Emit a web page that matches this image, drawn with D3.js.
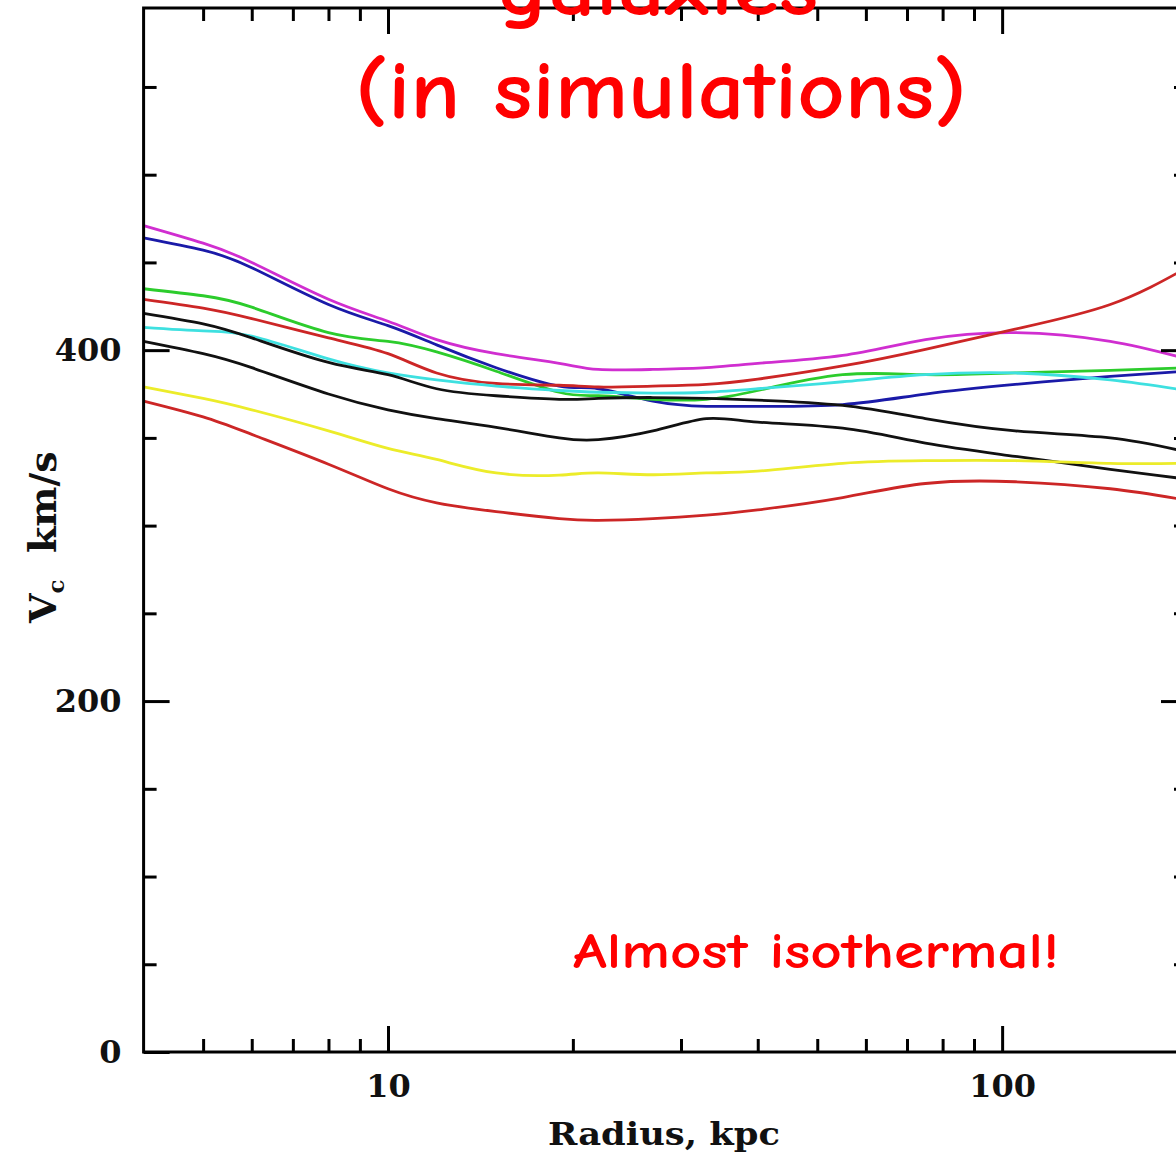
<!DOCTYPE html>
<html>
<head>
<meta charset="utf-8">
<script src="https://cdn.jsdelivr.net/npm/d3@7"></script>
<style>
  html, body { margin: 0; padding: 0; background: #fff; }
  svg { display: block; }
</style>
</head>
<body>
<svg id="chart" width="1176" height="1154"></svg>
<script>
// Circular velocity profiles of simulated galaxies (km/s vs radius in kpc)
const radii = [4, 5, 6, 8, 10, 12, 15, 19, 22, 27, 33, 40, 55, 75, 105, 150, 200];

const magentaV = [471, 461, 450, 429, 416.5, 406, 398, 392.5, 389, 389, 390, 392.5, 397, 406, 410, 405, 395];
const blueV    = [464, 457, 447, 426, 414, 403, 390, 379.5, 378, 371, 368, 368, 369, 375, 380.5, 385, 388];
const greenV   = [435, 431, 424.5, 410, 405, 399, 388, 376, 374, 372, 372, 377, 386, 386, 387, 388.5, 390];
const redV     = [429, 424, 418, 407, 398, 387, 381, 380, 379, 379.5, 380.5, 383.5, 391, 400.5, 412, 426, 447];
const cyanV    = [413, 411, 408, 395, 387, 383, 379.5, 377, 376, 375.5, 376, 378, 382, 386, 387, 383, 377];
const blackV   = [421, 415, 407, 393, 386, 378, 374, 372, 372.5, 373, 372.5, 371.5, 368.5, 361, 354, 350, 342];
const black2V  = [405, 398, 390, 375, 366, 361, 356, 350, 349, 354, 361, 359, 355.5, 347, 339.5, 332, 326.5];
const yellowV  = [379, 372.5, 366, 354, 344, 337.7, 330, 328.8, 330, 329, 330, 331, 335.5, 337, 337, 335.5, 335.5];
const red2V    = [371, 362, 352, 335, 321, 313, 308, 304, 303, 304, 306, 309, 316, 324, 325, 321, 314.5];

const seriesNames  = ["magenta", "blue", "green", "red", "cyan", "black", "black2", "yellow", "red2"];
const seriesColors = ["#d02ed0", "#1a1aa8", "#2ccc2c", "#cc2626", "#3ee0e0", "#111111", "#111111", "#ecec2a", "#cc2626"];
const seriesValues = [magentaV, blueV, greenV, redV, cyanV, blackV, black2V, yellowV, red2V];

const yMajorTicks = [0, 200, 400];
const yMinorTicks = [50, 100, 150, 250, 300, 350, 450, 500, 550];
const xMajorTicks = [10, 100];
const xMinorTicks = [5, 6, 7, 8, 9, 20, 30, 40, 50, 60, 70, 80, 90];

const xTitle = "Radius, kpc";
const titleLine1 = "galaxies";
const titleLine2 = "(in simulations)";
const note = "Almost isothermal!";

const svg = d3.select("#chart");
const plotL = 143.6, plotR = 1187, plotT = 8, plotB = 1052;

const x = d3.scaleLog().domain([4, 200]).range([plotL, plotR]);
const y = d3.scaleLinear().domain([0, 595]).range([plotB, plotT]);

svg.append("rect").attr("width", 1176).attr("height", 1154).attr("fill", "#fff");

svg.append("defs").append("clipPath").attr("id", "plotClip")
  .append("rect").attr("x", plotL).attr("y", plotT)
  .attr("width", plotR - plotL).attr("height", plotB - plotT);

// Curves
const line = d3.line()
  .x(d => x(d[0]))
  .y(d => y(d[1]))
  .curve(d3.curveNatural);

const curves = svg.append("g").attr("clip-path", "url(#plotClip)");
seriesValues.forEach((vals, i) => {
  curves.append("path")
    .datum(radii.map((r, j) => [r, vals[j]]))
    .attr("class", "curve " + seriesNames[i])
    .attr("fill", "none")
    .attr("stroke", seriesColors[i])
    .attr("stroke-width", 2.8)
    .attr("stroke-linejoin", "round")
    .attr("d", line);
});

// Axes: ticks point inward on all four sides
const tickFont = "'DejaVu Serif', serif";
function styleAxis(g) {
  g.select(".domain").remove();
  g.selectAll(".tick line").attr("stroke", "#000").attr("stroke-width", 3);
  g.selectAll("text").attr("font-family", tickFont).attr("font-weight", "bold")
    .attr("font-size", 32).attr("fill", "#111");
}

svg.append("g").attr("transform", `translate(${plotL},0)`)
  .call(d3.axisLeft(y).tickValues(yMajorTicks).tickSize(-26).tickPadding(22).tickFormat(d3.format("d")))
  .call(styleAxis);
svg.append("g").attr("transform", `translate(${plotL},0)`)
  .call(d3.axisLeft(y).tickValues(yMinorTicks).tickSize(-13).tickFormat(""))
  .call(styleAxis);
svg.append("g").attr("transform", `translate(${plotR},0)`)
  .call(d3.axisRight(y).tickValues(yMajorTicks.slice(1)).tickSize(-26).tickFormat(""))
  .call(styleAxis);
svg.append("g").attr("transform", `translate(${plotR},0)`)
  .call(d3.axisRight(y).tickValues(yMinorTicks).tickSize(-13).tickFormat(""))
  .call(styleAxis);

svg.append("g").attr("transform", `translate(0,${plotB})`)
  .call(d3.axisBottom(x).tickValues(xMajorTicks).tickSize(-26).tickPadding(22).tickFormat(d3.format("d")))
  .call(styleAxis);
svg.append("g").attr("transform", `translate(0,${plotB})`)
  .call(d3.axisBottom(x).tickValues(xMinorTicks).tickSize(-13).tickFormat(""))
  .call(styleAxis);
svg.append("g").attr("transform", `translate(0,${plotT})`)
  .call(d3.axisTop(x).tickValues(xMajorTicks).tickSize(-26).tickFormat(""))
  .call(styleAxis);
svg.append("g").attr("transform", `translate(0,${plotT})`)
  .call(d3.axisTop(x).tickValues(xMinorTicks).tickSize(-13).tickFormat(""))
  .call(styleAxis);

// Frame
svg.append("rect")
  .attr("x", plotL).attr("y", plotT)
  .attr("width", plotR - plotL).attr("height", plotB - plotT)
  .attr("fill", "none").attr("stroke", "#000").attr("stroke-width", 3);

// Axis titles
svg.append("text")
  .attr("x", 664).attr("y", 1145)
  .attr("text-anchor", "middle")
  .attr("font-family", tickFont).attr("font-weight", "bold").attr("font-size", 32)
  .attr("fill", "#111")
  .attr("textLength", 232).attr("lengthAdjust", "spacingAndGlyphs")
  .text(xTitle);

const yTitle = svg.append("text")
  .attr("transform", "translate(56,623) rotate(-90)")
  .attr("font-family", tickFont).attr("font-weight", "bold").attr("font-size", 38)
  .attr("fill", "#111");
yTitle.append("tspan").text("V");
yTitle.append("tspan").attr("font-size", 23).attr("dy", 8).text("c");
yTitle.append("tspan").attr("dy", -8).text("\u00a0\u00a0km/s");

// Red annotations
const handFont = "'Comic Sans MS', 'Comic Neue', Lato, 'Noto Sans', sans-serif";
svg.append("text")
  .attr("x", 658).attr("y", 15)
  .attr("text-anchor", "middle")
  .attr("font-family", handFont).attr("font-weight", "bold").attr("font-size", 80)
  .attr("fill", "#ff0000")
  .attr("textLength", 321).attr("lengthAdjust", "spacingAndGlyphs")
  .text(titleLine1);
svg.append("text")
  .attr("x", 661).attr("y", 118)
  .attr("text-anchor", "middle")
  .attr("font-family", handFont).attr("font-weight", "bold").attr("font-size", 82)
  .attr("fill", "#ff0000")
  .attr("textLength", 612).attr("lengthAdjust", "spacingAndGlyphs")
  .text(titleLine2);
svg.append("text")
  .attr("x", 573).attr("y", 968)
  .attr("font-family", handFont).attr("font-weight", "bold").attr("font-size", 51)
  .attr("fill", "#ff0000")
  .attr("textLength", 486).attr("lengthAdjust", "spacingAndGlyphs")
  .text(note);
</script>
</body>
</html>
